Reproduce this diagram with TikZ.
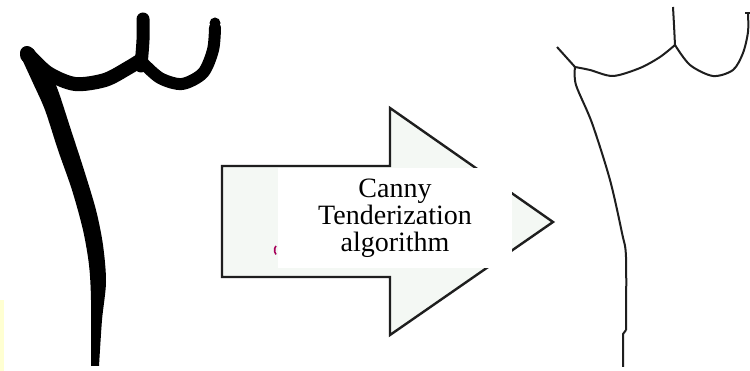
\documentclass[tikz,border=0pt]{standalone}
\usepackage{fontspec}
\setmainfont{Liberation Serif}
\definecolor{arrowfill}{HTML}{F4F8F4}
\definecolor{inkdark}{HTML}{1E1E1E}
\definecolor{paleyellow}{HTML}{FFFFD2}
\tikzset{
  thickink/.style={line width=14pt, line cap=round, line join=round, black},
  thinink/.style={line width=2pt, line join=round, inkdark},
  bigarrow/.style={draw=inkdark, line width=2.4pt, fill=arrowfill, line join=miter},
}
\begin{document}
\begin{tikzpicture}[x=1pt,y=-1pt]
\useasboundingbox (0,0) rectangle (750,371);
\fill[white] (0,0) rectangle (750,371);
% pale yellow strip at left edge
\fill[paleyellow] (0,300) rectangle (4,371);

% ---------- left thick glyph ----------
\fill[black] plot[smooth] coordinates {(21,57) (33,83) (45,110) (58,150) (72,190) (83,230) (89,265) (91,300) (91,366)}
  -- plot[smooth] coordinates {(99,366) (102,320) (106,282) (103,245) (96,210) (84,170) (71,130) (60,96) (54,80)} -- cycle;
\draw[thickink] plot[smooth] coordinates {(27,53) (48,73) (75,84) (105,80) (128,68) (141,60)};
\fill[black] (28,55) circle (8pt);
\draw[thickink, line width=13pt] plot[smooth] coordinates {(141,66) (143,40) (143,19)};
\draw[thickink, line width=12pt] plot[smooth] coordinates {(142,62) (160,78) (182,84) (203,73) (213,50) (215,28)};
\fill[black] (215,23) circle (5.5pt);

% ---------- block arrow ----------
\draw[bigarrow] (222,166) -- (390,166) -- (390,108) -- (553,222) -- (390,335) -- (390,277) -- (222,277) -- cycle;
% tiny coloured speck
\draw[line width=1.6pt, violet!70!red] (276,246) arc (110:250:2.2pt and 4.5pt);
% white label box
\fill[white] (278,168) rectangle (512,268);
\node[inner sep=0pt, align=center, font=\fontsize{28pt}{27pt}\selectfont] (label) at (395,218.5)
  {Canny\\Tenderization\\algorithm};

% ---------- right thin outline glyph ----------
\draw[thinink] plot[smooth] coordinates {(557,47) (566,57) (575,67)};
\draw[thinink] plot[smooth] coordinates {(575,67) (590,70) (613,76) (640,68) (660,57) (675,45)};
\draw[thinink] plot[smooth] coordinates {(675,45) (674,25) (673,7)};
\draw[thinink] plot[smooth] coordinates {(675,45) (690,65) (713,76) (733,70) (743,53) (748,32) (748,14)};
\draw[thinink] (745,13) -- (750,13);
\draw[thinink] plot[smooth] coordinates {(575,67) (576,85) (592,123) (610,180) (622,233) (626,257) (626,330)};
\draw[thinink] (626,330) -- (623,334) -- (623,367);
\end{tikzpicture}
\end{document}
